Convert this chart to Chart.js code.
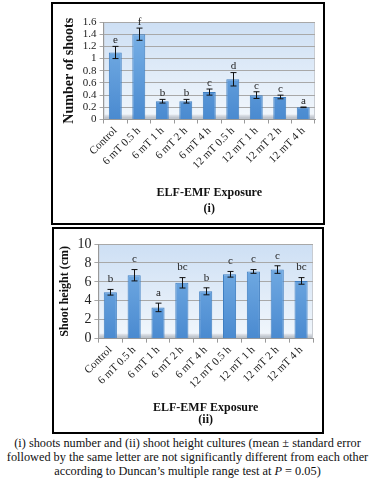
<!DOCTYPE html>
<html>
<head>
<meta charset="utf-8">
<script src="https://cdn.jsdelivr.net/npm/chart.js@4"></script>
<style>
  body { margin: 0; background: #fff; width: 375px; height: 480px; position: relative; font-family: "Liberation Serif", serif; }
  .box { position: absolute; border: 2px solid #000; background: #fff; }
  #box1 { left: 51px; top: 2px; width: 270px; height: 219px; }
  #box2 { left: 52px; top: 227px; width: 268px; height: 203px; }
  .box canvas { display: block; }
  #caption { position: absolute; left: 0; top: 436px; width: 375px; text-align: center; font-size: 12.3px; line-height: 14px; color: #111; white-space: nowrap; }
</style>
</head>
<body>
<div class="box" id="box1"><canvas id="chart-shoots" width="270" height="219"></canvas></div>
<div class="box" id="box2"><canvas id="chart-height" width="268" height="203"></canvas></div>
<div id="caption">(i) shoots number and (ii) shoot height cultures (mean ± standard error<br>followed by the same letter are not significantly different from each other<br>according to Duncan’s multiple range test at <i>P</i> = 0.05)</div>
<script>
const categories = ['Control', '6 mT 0.5 h', '6 mT 1 h', '6 mT 2 h', '6 mT 4 h', '12 mT 0.5 h', '12 mT 1 h', '12 mT 2 h', '12 mT 4 h'];

// (i) number of shoots
const shootsMean = [1.1, 1.4, 0.3, 0.3, 0.45, 0.66, 0.4, 0.37, 0.2];
const shootsErr = [0.1, 0.1, 0.03, 0.03, 0.05, 0.11, 0.055, 0.03, 0.005];
const shootsLetters = ['e', 'f', 'b', 'b', 'c', 'd', 'c', 'c', 'a'];

// (ii) shoot height (cm)
const heightMean = [4.9, 6.7, 3.3, 5.9, 5.0, 6.8, 7.1, 7.3, 6.1];
const heightErr = [0.3, 0.6, 0.45, 0.55, 0.37, 0.3, 0.2, 0.4, 0.35];
const heightLetters = ['b', 'c', 'a', 'bc', 'b', 'c', 'c', 'c', 'bc'];

const serif = '"Liberation Serif", "Times New Roman", serif';

// light blue back wall with a grey floor
const wallPlugin = {
    id: 'wall',
    beforeDraw(chart) {
        const { ctx, chartArea: a } = chart;
        const g = ctx.createLinearGradient(0, a.top, 0, a.bottom);
        g.addColorStop(0, '#cddff4');
        g.addColorStop(1, '#f2f7fc');
        ctx.save();
        ctx.fillStyle = g;
        ctx.fillRect(a.left, a.top, a.right - a.left, a.bottom - a.top);
        const f = ctx.createLinearGradient(0, a.bottom - 5, 0, a.bottom);
        f.addColorStop(0, '#e4e8ee');
        f.addColorStop(1, '#a9b0ba');
        ctx.fillStyle = f;
        ctx.fillRect(a.left, a.bottom - 5, a.right - a.left, 5);
        ctx.strokeStyle = '#c8ccd2';
        ctx.lineWidth = 1;
        ctx.strokeRect(a.left + 0.5, a.top + 0.5, a.right - a.left - 1, a.bottom - a.top - 1);
        ctx.restore();
    }
};

// error bars + significance letters
const errorPlugin = {
    id: 'errors',
    afterDatasetsDraw(chart, args, opts) {
        const { ctx } = chart;
        const y = chart.scales.y;
        const meta = chart.getDatasetMeta(0);
        ctx.save();
        ctx.strokeStyle = '#111';
        ctx.lineWidth = 1;
        ctx.fillStyle = '#222';
        ctx.font = opts.font;
        ctx.textAlign = 'center';
        ctx.textBaseline = 'middle';
        meta.data.forEach((bar, i) => {
            const v = opts.mean[i], e = opts.err[i];
            const x = Math.round(bar.x) + 0.5;
            const yt = y.getPixelForValue(v + e), yb = y.getPixelForValue(v - e);
            ctx.beginPath();
            ctx.moveTo(x, yt); ctx.lineTo(x, yb);
            ctx.moveTo(x - 3, yt); ctx.lineTo(x + 3, yt);
            ctx.moveTo(x - 3, yb); ctx.lineTo(x + 3, yb);
            ctx.stroke();
            ctx.fillText(opts.letters[i], x, yt - opts.offset);
        });
        ctx.restore();
    }
};

function barFill(context) {
    const { chart } = context;
    const a = chart.chartArea;
    if (!a) return '#5b9bd5';
    const g = chart.ctx.createLinearGradient(0, a.top, 0, a.bottom);
    g.addColorStop(0, '#7db4e8');
    g.addColorStop(1, '#4a8ad0');
    return g;
}

function makeChart(id, cfg) {
    return new Chart(document.getElementById(id), {
        type: 'bar',
        data: {
            labels: categories,
            datasets: [{
                data: cfg.mean,
                backgroundColor: barFill,
                borderColor: '#3f7fc2',
                borderWidth: 1,
                barPercentage: 0.55,
                categoryPercentage: 1
            }]
        },
        options: {
            responsive: false,
            animation: false,
            layout: { padding: cfg.padding },
            plugins: {
                legend: { display: false },
                tooltip: { enabled: false },
                errors: { mean: cfg.mean, err: cfg.err, letters: cfg.letters, offset: cfg.letterOffset, font: '11px ' + serif }
            },
            scales: {
                x: {
                    grid: { display: true, drawOnChartArea: false, offset: true, tickLength: 4, color: '#999' },
                    border: { color: '#999' },
                    ticks: { color: '#222', font: { family: serif, size: 11 }, minRotation: 45, maxRotation: 45, padding: 1, autoSkip: false },
                    title: {
                        display: true, text: ['ELF-EMF Exposure', cfg.tag], color: '#111',
                        font: { family: serif, size: 12, weight: 'bold', lineHeight: cfg.titleLine },
                        padding: { top: cfg.titleTop, bottom: 0 }
                    }
                },
                y: {
                    min: 0, max: cfg.max,
                    grid: { color: '#a8a8a8', tickLength: 4 },
                    border: { color: '#999' },
                    ticks: {
                        stepSize: cfg.step, color: '#222', padding: 3, autoSkip: false,
                        font: { family: serif, size: cfg.tickSize },
                        callback: v => String(+v.toFixed(1))
                    },
                    title: {
                        display: true, text: cfg.yTitle, color: '#111',
                        font: { family: serif, size: cfg.yTitleSize, weight: 'bold' },
                        padding: { top: 0, bottom: 2 }
                    }
                }
            }
        },
        plugins: [wallPlugin, errorPlugin]
    });
}

makeChart('chart-shoots', {
    mean: shootsMean, err: shootsErr, letters: shootsLetters,
    max: 1.6, step: 0.2, tickSize: 11, yTitle: 'Number of shoots', yTitleSize: 14,
    tag: '(i)', titleLine: 1.35, titleTop: 12, letterOffset: 6,
    padding: { left: 8, right: 8, top: 18, bottom: 6 }
});

makeChart('chart-height', {
    mean: heightMean, err: heightErr, letters: heightLetters,
    max: 10, step: 2, tickSize: 14, yTitle: 'Shoot height (cm)', yTitleSize: 12,
    tag: '(ii)', titleLine: 1.0, titleTop: 10, letterOffset: 10,
    padding: { left: 4, right: 9, top: 15, bottom: 6 }
});
</script>
</body>
</html>
